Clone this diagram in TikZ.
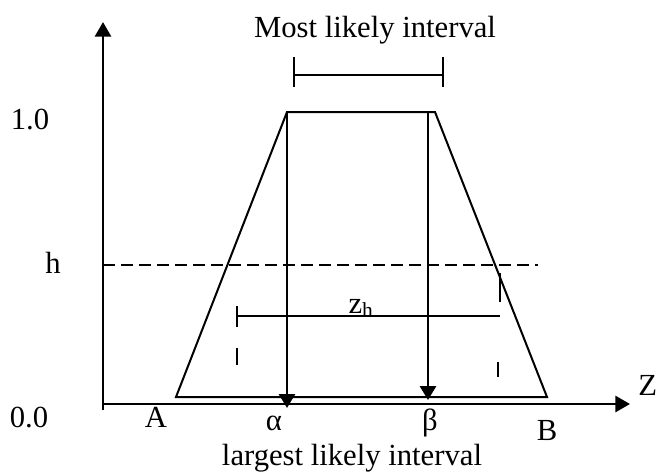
\documentclass[tikz,border=0pt]{standalone}
\usepackage{fontspec}
\setmainfont{Liberation Serif}
\usetikzlibrary{arrows.meta}

\begin{document}
\begin{tikzpicture}[x=0.75pt,y=-0.75pt,
 font=\fontsize{23}{26}\selectfont,
 axis/.style={-{Triangle[length=11pt,width=12pt]},line width=2.2pt},
 drop/.style={-{Triangle[length=10.5pt,width=12pt]},line width=2.2pt},
 edge/.style={line width=1.5pt,line join=miter},
 bar/.style={line width=1.5pt},
 label/.style={inner sep=0pt,anchor=base}]
\useasboundingbox (0,0) rectangle (656,472);

% Axes meet at the origin; the vertical one runs a little below it.
\coordinate (O) at (103,404);
\coordinate (ylow) at (103,410);
\coordinate (ytip) at (103,22);
\coordinate (xtip) at (630,404);
\draw[axis] (ylow) -- (ytip);
\draw[axis] (O) -- (xtip);

% Trapezoidal membership function.
\coordinate (tA) at (176,397);
\coordinate (tL) at (287,112);
\coordinate (tR) at (435,112);
\coordinate (tB) at (547,397);
\draw[edge] (tA) -- (tL) -- (tR) -- (tB) -- cycle;

% Drops from the plateau to the axis.
\coordinate (aTop) at (287,112);
\coordinate (aEnd) at (287,408);
\coordinate (bTop) at (428,113);
\coordinate (bEnd) at (428,400);
\draw[drop] (aTop) -- (aEnd);
\draw[drop] (bTop) -- (bEnd);

% Level h.
\coordinate (hL) at (103,265);
\coordinate (hR) at (538,265);
\draw[bar,dash pattern=on 9pt off 4.5pt] (hL) -- (hR);

% Interval at level h.
\coordinate (zL) at (237,316);
\coordinate (zR) at (500,316);
\draw[bar] (zL) -- (zR);
\draw[bar] (237,306) -- (237,327) (237,348) -- (237,365);
\draw[bar] (500,273) -- (500,302) (498,362) -- (498,377);

% Most likely interval bracket.
\coordinate (mL) at (294,75);
\coordinate (mR) at (443,75);
\draw[bar] (mL) -- (mR);
\draw[bar] (294,57) -- (294,87) (443,57) -- (443,87);

% Labels.
\node[label] (top) at (375,37) {Most likely interval};
\node[label] (bot) at (352,465) {largest likely interval};
\node[label] (one) at (30,129) {1.0};
\node[label] (lvl) at (53,273) {h};
\node[label] (zero) at (29,427) {0.0};
\node[label] (lA) at (156,427) {A};
\node[label] (lal) at (274,430) {α};
\node[label] (lbe) at (430,430) {β};
\node[label] (lB) at (547,440) {B};
\node[label,anchor=base west] (lZ) at (638,395) {Z};
\node[label] (lzh) at (361,313) {z\textsubscript{h}};
\end{tikzpicture}
\end{document}
